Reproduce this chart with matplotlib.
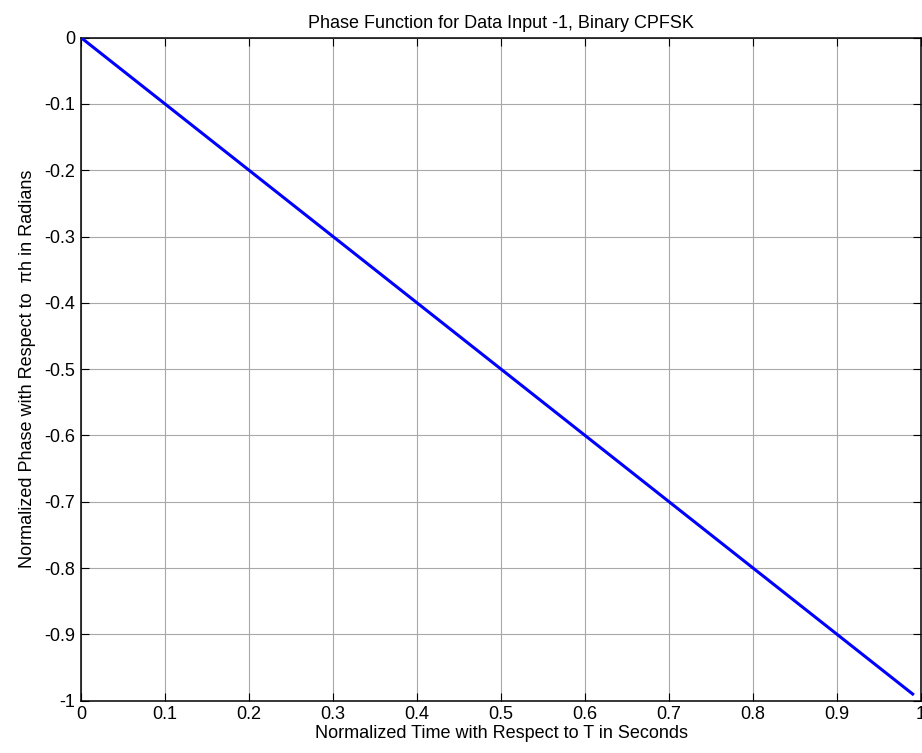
import matplotlib
matplotlib.use("Agg")
import matplotlib.pyplot as plt

plt.rcParams['font.family'] = ['Liberation Sans', 'DejaVu Sans']

# normalized time (t/T) and phase (theta / pi h) for data input -1
t_norm = [0.0, 0.1, 0.2, 0.3, 0.4, 0.5, 0.6, 0.7, 0.8, 0.9, 0.99]
phase_norm = [0.0, -0.1, -0.2, -0.3, -0.4, -0.5, -0.6, -0.7, -0.8, -0.9, -0.99]

x_ticks = [0, 0.1, 0.2, 0.3, 0.4, 0.5, 0.6, 0.7, 0.8, 0.9, 1]
x_labels = ['0', '0.1', '0.2', '0.3', '0.4', '0.5', '0.6', '0.7', '0.8', '0.9', '1']
y_ticks = [0, -0.1, -0.2, -0.3, -0.4, -0.5, -0.6, -0.7, -0.8, -0.9, -1]
y_labels = ['0', '-0.1', '-0.2', '-0.3', '-0.4', '-0.5', '-0.6', '-0.7', '-0.8', '-0.9', '-1']

fig = plt.figure(figsize=(9.22, 7.53), dpi=100)
ax = fig.add_axes([0.0879, 0.0695, 0.9111, 0.8805])

ax.plot(t_norm, phase_norm, color='#0000ff', linewidth=2.2, zorder=3)

ax.set_xlim(0, 1)
ax.set_ylim(-1, 0)
ax.set_xticks(x_ticks)
ax.set_xticklabels(x_labels)
ax.set_yticks(y_ticks)
ax.set_yticklabels(y_labels)
ax.tick_params(direction='in', top=True, right=True, length=6, width=0.8,
               labelsize=13, pad=4)
ax.grid(True, color='#a8a8a8', linewidth=0.8)
for sp in ax.spines.values():
    sp.set_linewidth(1.1)

ax.set_title('Phase Function for Data Input -1, Binary CPFSK', fontsize=13, pad=7)
ax.set_xlabel('Normalized Time with Respect to T in Seconds', fontsize=13, labelpad=1)
ax.set_ylabel('Normalized Phase with Respect to  \u03c0h in Radians', fontsize=13, labelpad=6)

fig.savefig('out.png', dpi=100)
